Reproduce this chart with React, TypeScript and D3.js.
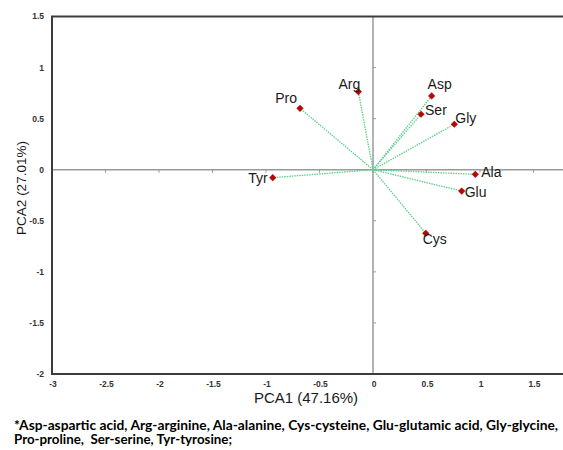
import React from "react";
import * as d3 from "d3";

const aminoAcids = ["Arg", "Pro", "Asp", "Ser", "Gly", "Ala", "Glu", "Cys", "Tyr"];
const pca1Values = [-0.137, -0.682, 0.548, 0.449, 0.76, 0.956, 0.829, 0.493, -0.937];
const pca2Values = [0.764, 0.601, 0.722, 0.543, 0.445, -0.045, -0.209, -0.623, -0.078];
const xTicks = [-3, -2.5, -2, -1.5, -1, -0.5, 0, 0.5, 1, 1.5];
const yTicks = [1.5, 1, 0.5, 0, -0.5, -1, -1.5, -2];
const xTitle = "PCA1 (47.16%)";
const yTitle = "PCA2 (27.01%)";
const footnote1 = "*Asp-aspartic acid, Arg-arginine, Ala-alanine, Cys-cysteine, Glu-glutamic acid, Gly-glycine,";
const footnote2 = "Pro-proline,  Ser-serine, Tyr-tyrosine;";

// label placement (style only)
const labelPlace: Record<string, { dx: number; dy: number; anchor: string }> = {
  Arg: { dx: -9, dy: -3, anchor: "middle" },
  Pro: { dx: -14, dy: -5, anchor: "middle" },
  Asp: { dx: 8, dy: -7, anchor: "middle" },
  Ser: { dx: 4, dy: 1, anchor: "start" },
  Gly: { dx: 1, dy: -1, anchor: "start" },
  Ala: { dx: 6, dy: 3, anchor: "start" },
  Glu: { dx: 3, dy: 6, anchor: "start" },
  Cys: { dx: 9, dy: 11, anchor: "middle" },
  Tyr: { dx: -5, dy: 5, anchor: "end" },
};

export default function App() {
  const W = 563;
  const H = 450;
  const x = d3.scaleLinear().domain([-3, 2]).range([52, 587]);
  const y = d3.scaleLinear().domain([-2, 1.5]).range([374, 16.5]);
  const data = aminoAcids.map((n, i) => ({ name: n, px: pca1Values[i], py: pca2Values[i] }));
  const x0 = x(0);
  const y0 = y(0);
  const font = "Arial, 'Liberation Sans', sans-serif";
  const green = "#5ccf8c";
  const red = "#b50a0a";

  return (
    <svg width={W} height={H} style={{ position: "absolute", left: 0, top: 0, background: "#fff" }} fontFamily={font}>
      <rect x={0} y={0} width={W} height={H} fill="#fff" />
      {/* zero lines */}
      <line x1={x0} x2={x0} y1={y(1.5)} y2={y(-2)} stroke="#9a9a9a" strokeWidth={1.5} />
      <line x1={x(-3)} x2={W} y1={y0} y2={y0} stroke="#9a9a9a" strokeWidth={1.5} />
      {/* small ticks on zero lines */}
      {yTicks.map((t) => (
        <line key={"yt" + t} x1={x0} x2={x0 + 3} y1={y(t)} y2={y(t)} stroke="#9a9a9a" strokeWidth={1} />
      ))}
      {xTicks.map((t) => (
        <line key={"xt" + t} x1={x(t)} x2={x(t)} y1={y0} y2={y0 + 3} stroke="#9a9a9a" strokeWidth={1} />
      ))}
      {/* frame */}
      <path
        d={`M${W},${y(1.5)}H${x(-3)}V${y(-2)}H${W}`}
        fill="none"
        stroke="#3c3c3c"
        strokeWidth={2}
      />
      {/* vectors */}
      {data.map((d) => (
        <line
          key={"v" + d.name}
          x1={x0}
          y1={y0}
          x2={x(d.px)}
          y2={y(d.py)}
          stroke={green}
          strokeWidth={1.3}
          strokeDasharray="1.5,1"
        />
      ))}
      {/* points */}
      {data.map((d) => {
        const cx = x(d.px);
        const cy = y(d.py);
        const r = 3.6;
        return (
          <path
            key={"p" + d.name}
            d={`M${cx},${cy - r}L${cx + r},${cy}L${cx},${cy + r}L${cx - r},${cy}Z`}
            fill={red}
          />
        );
      })}
      {/* labels */}
      {data.map((d) => {
        const lp = labelPlace[d.name];
        return (
          <text
            key={"l" + d.name}
            x={x(d.px) + lp.dx}
            y={y(d.py) + lp.dy}
            textAnchor={lp.anchor}
            fontSize={14}
            fill="#1a1a1a"
          >
            {d.name}
          </text>
        );
      })}
      {/* y tick labels */}
      {yTicks.map((t) => (
        <text
          key={"yl" + t}
          x={44}
          y={y(t)}
          dy="0.35em"
          textAnchor="end"
          fontSize={8.5}
          fontWeight="bold"
          fill="#333"
        >
          {String(t)}
        </text>
      ))}
      {/* x tick labels */}
      {xTicks.map((t) => (
        <text
          key={"xl" + t}
          x={x(t) + 1}
          y={384.5}
          dy="0.35em"
          textAnchor="middle"
          fontSize={8.5}
          fontWeight="bold"
          fill="#333"
        >
          {String(t)}
        </text>
      ))}
      {/* axis titles */}
      <text x={306} y={403} textAnchor="middle" fontSize={15} fill="#1a1a1a">
        {xTitle}
      </text>
      <text transform="translate(26,188) rotate(-90)" textAnchor="middle" fontSize={13.5} fill="#1a1a1a">
        {yTitle}
      </text>
      {/* footnote */}
      <text
        x={14}
        y={430}
        fontSize={12.5}
        fontWeight="bold"
        fontFamily="Lato, 'Open Sans', sans-serif"
        fill="#000"
        textLength={544}
        lengthAdjust="spacingAndGlyphs"
        style={{ whiteSpace: "pre" }}
      >
        {footnote1}
      </text>
      <text
        x={14}
        y={443.5}
        fontSize={12.5}
        fontWeight="bold"
        fontFamily="Lato, 'Open Sans', sans-serif"
        fill="#000"
        textLength={218}
        lengthAdjust="spacingAndGlyphs"
        style={{ whiteSpace: "pre" }}
      >
        {footnote2}
      </text>
    </svg>
  );
}
